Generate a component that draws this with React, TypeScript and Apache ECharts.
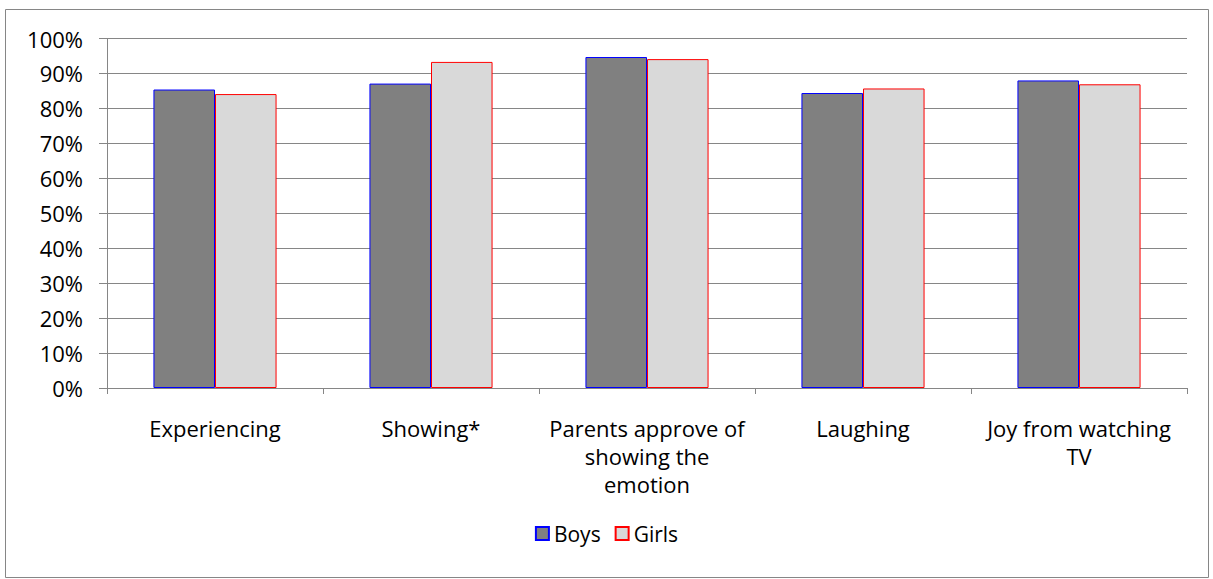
import React, { useEffect, useRef } from "react";
import * as echarts from "echarts";

const categories = [
  "Experiencing",
  "Showing*",
  "Parents approve of\nshowing the\nemotion",
  "Laughing",
  "Joy from watching\nTV",
];
const boys = [0.854, 0.871, 0.947, 0.844, 0.88];
const girls = [0.841, 0.933, 0.941, 0.857, 0.869];
const yTicks = { min: 0, max: 1, interval: 0.1 };

const FONT = "Open Sans";
const AXIS_GRAY = "#868686";

export default function App() {
  const ref = useRef<HTMLDivElement>(null);
  useEffect(() => {
    if (!ref.current) return;
    const chart = echarts.init(ref.current, undefined, { renderer: "svg" });
    chart.setOption({
      animation: false,
      textStyle: { fontFamily: FONT, color: "#000" },
      graphic: [
        {
          type: "rect",
          shape: { x: 5.5, y: 9.5, width: 1203, height: 568 },
          style: { fill: "none", stroke: "#868686", lineWidth: 1 },
          silent: true,
        },
      ],
      grid: { left: 107, right: 26, top: 38.5, bottom: 191, containLabel: false },
      legend: {
        top: 518,
        left: "center",
        icon: "rect",
        itemWidth: 13,
        itemHeight: 13,
        itemGap: 14,
        textStyle: { fontFamily: FONT, fontSize: 21, color: "#000" },
        data: ["Boys", "Girls"],
      },
      xAxis: {
        type: "category",
        data: categories,
        axisLine: { lineStyle: { color: AXIS_GRAY, width: 1 } },
        axisTick: { show: true, length: 6, lineStyle: { color: AXIS_GRAY } },
        axisLabel: {
          interval: 0,
          fontFamily: FONT,
          fontSize: 22,
          color: "#000",
          margin: 26,
          lineHeight: 28,
        },
      },
      yAxis: {
        type: "value",
        min: yTicks.min,
        max: yTicks.max,
        interval: yTicks.interval,
        axisLine: { show: true, lineStyle: { color: AXIS_GRAY, width: 1 } },
        axisTick: { show: true, length: 8, lineStyle: { color: AXIS_GRAY } },
        splitLine: { lineStyle: { color: AXIS_GRAY, width: 1 } },
        axisLabel: {
          fontFamily: FONT,
          fontSize: 22,
          color: "#000",
          margin: 24,
          formatter: (v: number) => `${Math.round(v * 100)}%`,
        },
      },
      series: [
        {
          name: "Boys",
          type: "bar",
          data: boys,
          barWidth: "28.5%",
          barGap: "0%",
          itemStyle: { color: "#808080", borderColor: "#0000ff", borderWidth: 1 },
        },
        {
          name: "Girls",
          type: "bar",
          data: girls,
          barWidth: "28.5%",
          barGap: "0%",
          itemStyle: { color: "#d9d9d9", borderColor: "#ff0000", borderWidth: 1 },
        },
      ],
    });
    return () => chart.dispose();
  }, []);
  return (
    <div
      ref={ref}
      style={{ position: "fixed", left: 0, top: 0, width: 1213, height: 579, background: "#fff" }}
    />
  );
}
